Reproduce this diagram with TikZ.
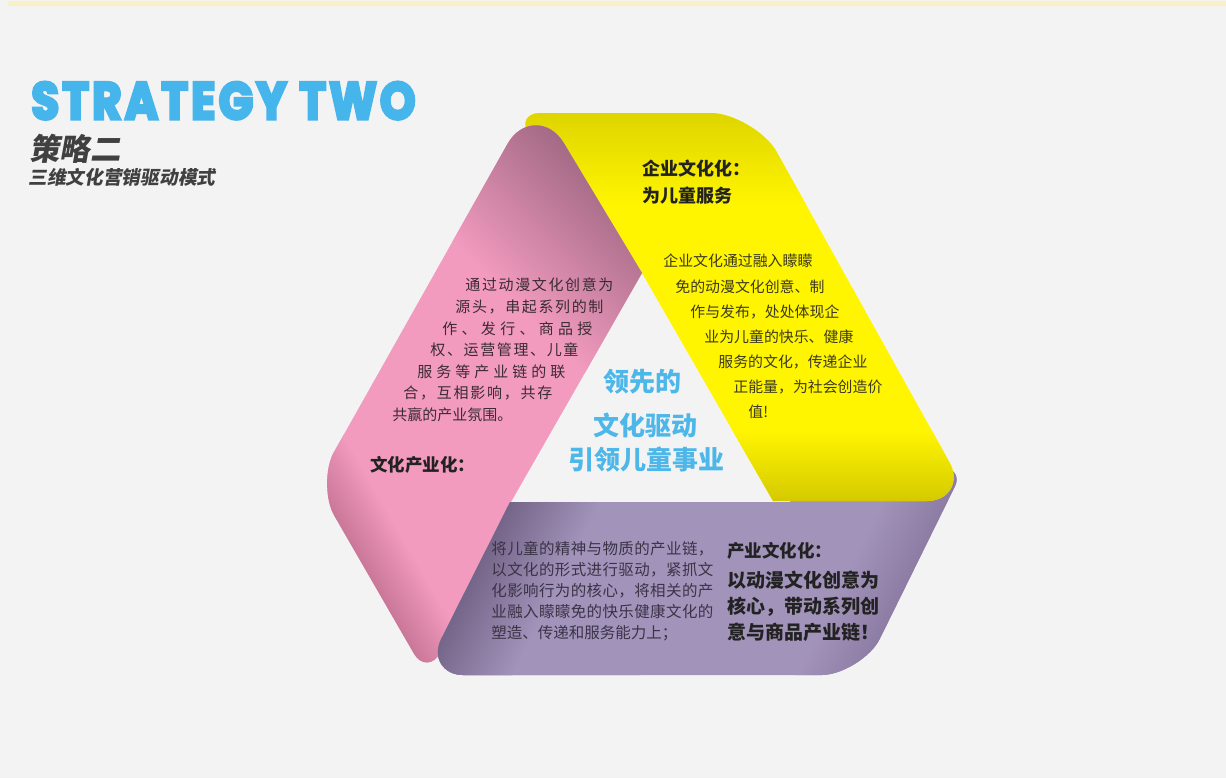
\documentclass[tikz,border=0pt]{standalone}
\usepackage{fontspec}
\usepackage{graphicx}
\usetikzlibrary{calc}
\newfontfamily\cjk{Noto Sans CJK SC}
\newfontfamily\cjkslant{Noto Sans CJK SC}[FakeSlant=0.18]
\newfontfamily\popfont{Poppins}[UprightFont={* Bold}, FakeBold=6, LetterSpace=7]
\definecolor{bg}{HTML}{F3F3F3}
\definecolor{stripe}{HTML}{FAF0C6}
\definecolor{titleblue}{HTML}{45B5EC}
\definecolor{titlegray}{HTML}{404040}
\definecolor{pinkmain}{HTML}{F29BBF}
\definecolor{pinkdark}{HTML}{93607A}
\definecolor{pinkmid}{HTML}{C07E9C}
\definecolor{pinkedge}{HTML}{B86888}
\definecolor{yelmain}{HTML}{FFF500}
\definecolor{yeltop}{HTML}{DCD200}
\definecolor{yelbot}{HTML}{D4C900}
\definecolor{purmain}{HTML}{A293BB}
\definecolor{purdark}{HTML}{6A5A7C}
\definecolor{purmid}{HTML}{8C7CA4}
\definecolor{purright}{HTML}{85759C}
\definecolor{centerblue}{HTML}{4DB7E9}
\definecolor{txtdark}{HTML}{222222}
\definecolor{txtpink}{HTML}{3B2B33}
\definecolor{txtyel}{HTML}{3C3A20}
\definecolor{txtpur}{HTML}{3A3346}
\makeatletter
\def\sprd#1{\sprd@a#1\sprd@end}
\def\sprd@a#1{#1\sprd@b}
\def\sprd@b#1{\ifx#1\sprd@end\else\hfill#1\expandafter\sprd@b\fi}
\let\sprd@end\relax
\makeatother
\newcommand\cornerpts[5]{%
  \coordinate (#1a) at ($(#3)!#5!(#2)$);
  \coordinate (#1b) at ($(#3)!#5!(#4)$);
  \coordinate (#1p) at ($(#1a)!0.5!(#3)$);
  \coordinate (#1q) at ($(#1b)!0.5!(#3)$);}
\def\pinkpath{(PR) -- (PC) -- (pBa) .. controls (pBp) and (pBq) .. (pBb) -- (pLa) .. controls (pLp) and (pLq) .. (pLb) -- (pTa) .. controls (pTp) and (pTq) .. (pTb) -- cycle}
\def\yelpath{(YBL) -- (PR) -- (yTLa) .. controls (yTLp) and (yTLq) .. (yTLb) -- (yTRa) .. controls (yTRp) and (yTRq) .. (yTRb) -- (yBRa) .. controls (yBRp) and (yBRq) .. (yBRb) -- cycle}
\def\purpath{(UTL) -- (UA) -- (UB) -- (uTRa) .. controls (uTRp) and (uTRq) .. (uTRb) -- (uBRa) .. controls (uBRp) and (uBRq) .. (uBRb) -- (uBLa) .. controls (uBLp) and (uBLq) .. (uBLb) -- cycle}
\newcommand\purpleband{%
  \begin{scope}
    \clip \purpath;
    \fill[purmain] (380,440) rectangle (1000,700);
    \begin{scope}[transform canvas={rotate around={63:(466,590)}}]
      \shade[top color=purdark, middle color=purmid, bottom color=purmain] (216,570) rectangle (716,670);
    \end{scope}
    \begin{scope}[transform canvas={rotate around={-116:(914,570)}}]
      \shade[top color=purright, bottom color=purmain] (664,550) rectangle (1164,630);
    \end{scope}
  \end{scope}}
\begin{document}
\begin{tikzpicture}[x=0.5pt,y=-0.5pt,
  ptxt/.style={inner sep=0pt, anchor=base west, text=txtpink, font=\cjk\fontsize{7.5pt}{9pt}\selectfont},
  ytxt/.style={inner sep=0pt, anchor=base west, text=txtyel, font=\cjk\fontsize{7.45pt}{9pt}\selectfont},
  utxt/.style={inner sep=0pt, anchor=base west, text=txtpur, font=\cjk\fontsize{7.75pt}{9pt}\selectfont},
  headtxt/.style={inner sep=0pt, anchor=base west, text=txtdark, font=\cjk\bfseries\fontsize{8.75pt}{10pt}\selectfont},
  bigbold/.style={inner sep=0pt, anchor=base west, text=txtdark, font=\cjk\bfseries\fontsize{9.5pt}{11pt}\selectfont},
  centertxt/.style={inner sep=0pt, anchor=base, text=centerblue, font=\cjk\bfseries\fontsize{13pt}{15pt}\selectfont}]
\useasboundingbox (0,0) rectangle (1226,778);
\fill[bg] (0,0) rectangle (1226,778);
\fill[stripe] (8,1) rectangle (1226,6);
% geometry
\coordinate (PT) at (535,95);
\coordinate (PR) at (642,273);
\coordinate (PC) at (511,502);
\coordinate (PB) at (428,678);
\coordinate (PL) at (316,484);
\coordinate (YTL) at (512,113);
\coordinate (YTR) at (755,113);
\coordinate (YBR) at (971,501);
\coordinate (YBL) at (773,501);
\coordinate (UTL) at (510,502);
\coordinate (UA) at (790,502);
\coordinate (UB) at (790,468);
\coordinate (UTR) at (964,468);
\coordinate (UBR) at (862,675);
\coordinate (UBL) at (423,675);
\cornerpts{pB}{PC}{PB}{PL}{14pt}
\cornerpts{pL}{PB}{PL}{PT}{18pt}
\cornerpts{pT}{PL}{PT}{PR}{28pt}
\cornerpts{yTL}{PR}{YTL}{YTR}{14pt}
\cornerpts{yTR}{YTL}{YTR}{YBR}{22pt}
\cornerpts{yBR}{YTR}{YBR}{YBL}{22pt}
\cornerpts{uTR}{UB}{UTR}{UBR}{10pt}
\cornerpts{uBR}{UTR}{UBR}{UBL}{20pt}
\cornerpts{uBL}{UBR}{UBL}{UTL}{20pt}
% purple band
\purpleband
% yellow band
\begin{scope}
  \clip \yelpath;
  \fill[yelmain] (500,100) rectangle (1000,510);
  \shade[top color=yeltop, bottom color=yelmain] (500,105) rectangle (1000,205);
  \shade[top color=yelmain, bottom color=yelbot] (500,430) rectangle (1000,502);
\end{scope}
% pink band
\begin{scope}
  \clip \pinkpath;
  \fill[pinkmain] (300,80) rectangle (700,700);
  \begin{scope}[transform canvas={rotate around={-45:(600,220)}}]
    \shade[top color=pinkdark, middle color=pinkmid, bottom color=pinkmain] (300,160) rectangle (900,340);
  \end{scope}
  \begin{scope}[transform canvas={rotate around={120:(370,580)}}]
    \shade[top color=pinkedge, bottom color=pinkmain] (120,560) rectangle (620,630);
  \end{scope}
\end{scope}
% purple over pink at bottom left
\begin{scope}
  \clip (300,496) rectangle (640,700);
  \purpleband
\end{scope}
% title
\node[inner sep=0pt, anchor=base west, text=titleblue, text depth=0pt] (title) at (31,119)
  {\resizebox{192pt}{18.5pt}{\popfont STRATEGY TWO}};
\node[inner sep=0pt, anchor=base west, text=titlegray, text height=11pt, text depth=1pt, font=\cjkslant\bfseries\fontsize{15.25pt}{17pt}\selectfont] (sub1) at (29,160.3) {策略二};
\node[inner sep=0pt, anchor=base west, text=titlegray, font=\cjkslant\bfseries\fontsize{9.35pt}{11pt}\selectfont] (sub2) at (28,184.9) {三维文化营销驱动模式};
% yellow texts
\node[headtxt, font=\cjk\bfseries\fontsize{9pt}{10pt}\selectfont] (yh1) at (642,175.2) {企业文化化：};
\node[headtxt, font=\cjk\bfseries\fontsize{9pt}{10pt}\selectfont] (yh2) at (642,202.7) {为儿童服务};
\node[ytxt] (y1) at (663,266.5) {企业文化通过融入矇矇};
\node[ytxt] (y2) at (675,292) {免的动漫文化创意、制};
\node[ytxt] (y3) at (690,317) {作与发布，处处体现企};
\node[ytxt] (y4) at (704,342) {业为儿童的快乐、健康};
\node[ytxt] (y5) at (718,367.5) {服务的文化，传递企业};
\node[ytxt] (y6) at (733,392) {正能量，为社会创造价};
\node[ytxt] (y7) at (748,417.5) {值!};
% pink texts
\node[ptxt] (p1) at (465,290.5) {\hbox to 74pt{\sprd{通过动漫文化创意为}}};
\node[ptxt] (p2) at (455,312.5) {\hbox to 74pt{\sprd{源头，串起系列的制}}};
\node[ptxt] (p3) at (442,334.5) {\hbox to 75pt{\sprd{作、发行、商品授}}};
\node[ptxt] (p4) at (430,355.5) {\hbox to 74pt{\sprd{权、运营管理、儿童}}};
\node[ptxt] (p5) at (417,377.5) {\hbox to 74pt{\sprd{服务等产业链的联}}};
\node[ptxt] (p6) at (403,398.5) {\hbox to 74.5pt{\sprd{合，互相影响，共存}}};
\node[ptxt] (p7) at (392,420.5) {共赢的产业氛围。};
\node[headtxt] (ph) at (370,471.5) {文化产业化：};
% purple texts
\node[utxt] (u1) at (491,554.7) {\hbox to 111pt{\sprd{将儿童的精神与物质的产业链，}}};
\node[utxt] (u2) at (491,575.7) {\hbox to 111pt{\sprd{以文化的形式进行驱动，紧抓文}}};
\node[utxt] (u3) at (491,596.7) {\hbox to 111pt{\sprd{化影响行为的核心，将相关的产}}};
\node[utxt] (u4) at (491,617.7) {\hbox to 111pt{\sprd{业融入矇矇免的快乐健康文化的}}};
\node[utxt] (u5) at (491,638.7) {塑造、传递和服务能力上；};
\node[headtxt] (uh) at (727,557.5) {产业文化化：};
\node[bigbold] (ub1) at (727,587) {以动漫文化创意为};
\node[bigbold] (ub2) at (727,613) {核心，带动系列创};
\node[bigbold] (ub3) at (727,639) {意与商品产业链！};
% center texts
\node[centertxt] (c1) at (642,391.5) {领先的};
\node[centertxt] (c2) at (645,435.6) {文化驱动};
\node[centertxt] (c3) at (646,469.6) {引领儿童事业};
\end{tikzpicture}
\end{document}
